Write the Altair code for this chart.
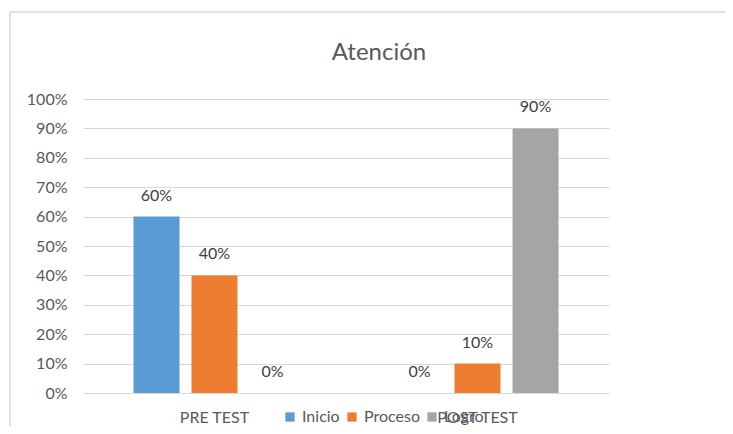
import altair as alt
import pandas as pd

grupos = ["PRE TEST", "POST TEST"]
series = ["Inicio", "Proceso", "Logro"]
inicio = [0.60, 0.00]
proceso = [0.40, 0.10]
logro = [0.00, 0.90]
colores = ["#5B9BD5", "#ED7D31", "#A5A5A5"]
titulo = "Atención"

rows = []
for i, g in enumerate(grupos):
    for s, vals in zip(series, [inicio, proceso, logro]):
        rows.append({"grupo": g, "serie": s, "valor": vals[i]})
df = pd.DataFrame(rows)

FONT = "Lato"

x_enc = alt.X("grupo:N", sort=grupos, title=None,
              scale=alt.Scale(paddingInner=0, paddingOuter=0),
              axis=alt.Axis(labelAngle=0, domain=False, ticks=False,
                            labelFontSize=16, labelColor="#595959",
                            labelFont=FONT, labelPadding=16))
xo_enc = alt.XOffset("serie:N", sort=series,
                     scale=alt.Scale(paddingInner=0.207, paddingOuter=0.87))
y_enc = alt.Y("valor:Q", title=None,
              scale=alt.Scale(domain=[0, 1]),
              axis=alt.Axis(format=".0%", values=[i / 10 for i in range(11)],
                            domain=False, ticks=False, gridColor="#D9D9D9",
                            labelOverlap=False,
                            labelFontSize=16, labelColor="#595959",
                            labelFont=FONT, labelPadding=16))

bars = alt.Chart(df).mark_bar().encode(
    x=x_enc, xOffset=xo_enc, y=y_enc,
    color=alt.Color("serie:N", sort=series,
                    scale=alt.Scale(domain=series, range=colores),
                    legend=alt.Legend(title=None, orient="none", direction="horizontal",
                                      legendX=199, legendY=310,
                                      symbolType="square", symbolSize=86,
                                      symbolStrokeWidth=0, labelFontSize=16,
                                      labelFont=FONT, labelColor="#595959",
                                      columnPadding=4, labelOffset=4)),
)

labels = alt.Chart(df).mark_text(baseline="alphabetic", dy=-16, fontSize=16,
                                 font=FONT, color="#404040").encode(
    x=x_enc, xOffset=xo_enc, y=y_enc,
    text=alt.Text("valor:Q", format=".0%"),
)

border_top = alt.Chart(alt.Data(values=[{}])).mark_rule(
    stroke="#D9D9D9", strokeWidth=1.5).encode(
    x=alt.value(-73), x2=alt.value(2000), y=alt.value(-87))
border_left = alt.Chart(alt.Data(values=[{}])).mark_rule(
    stroke="#D9D9D9", strokeWidth=1.5).encode(
    x=alt.value(-73), y=alt.value(-87), y2=alt.value(330))

title = alt.Chart(alt.Data(values=[{"t": titulo}])).mark_text(
    fontSize=24, font=FONT, color="#595959", baseline="alphabetic").encode(
    text="t:N", x=alt.value(296), y=alt.value(-39))

chart = alt.layer(border_top, border_left, title, bars, labels).properties(
    width=526, height=294,
    autosize=alt.AutoSizeParams(type="none"),
    padding={"left": 75, "top": 91, "right": 116, "bottom": 33},
).configure_view(stroke=None)

chart.save("out.html", embed_options={"renderer": "svg", "actions": False})
